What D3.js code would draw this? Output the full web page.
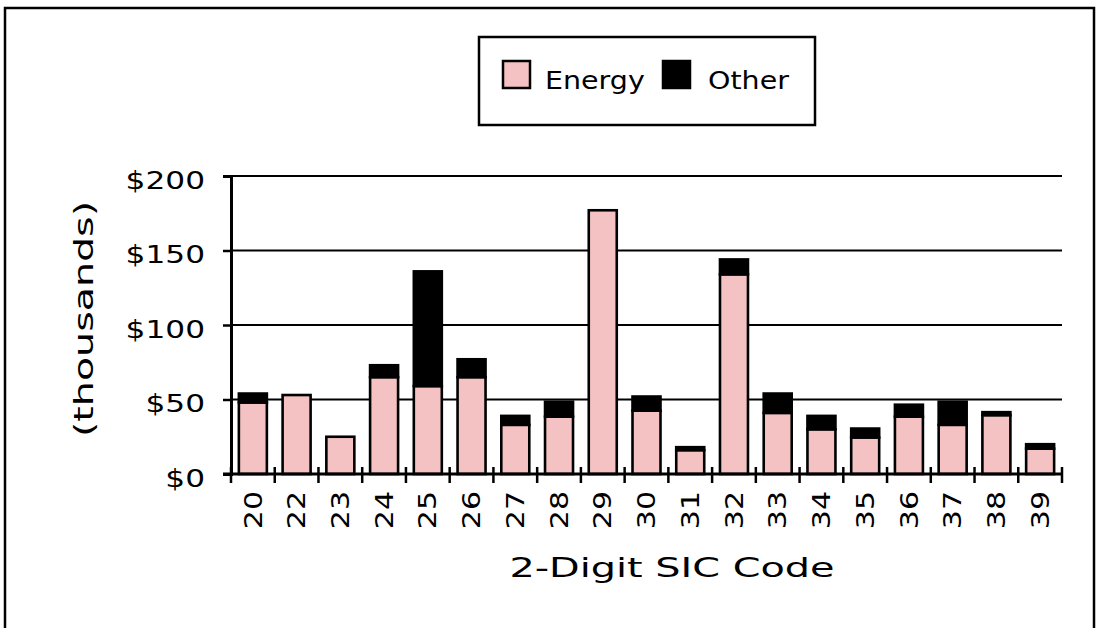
<!DOCTYPE html>
<html><head><meta charset="utf-8">
<script src="https://cdn.jsdelivr.net/npm/d3@7/dist/d3.min.js"></script>
<style>
html,body{margin:0;padding:0;background:#fff;}
svg text{font-family:"DejaVu Sans",Verdana,sans-serif;fill:#000;}
</style></head>
<body><svg id="chart" width="1099" height="628"></svg>
<script>
const categories = ["20","22","23","24","25","26","27","28","29","30","31","32","33","34","35","36","37","38","39"];
const energy = [48,53,25,65,59,65,33,38.5,177,42.5,16,134,41,30,24.5,38.5,33,39.5,17];
const other  = [6,0,0,8,77,12,6,10,0,9.5,2,10,13,9,6,8,15.5,2,3];
const yTicks = [0,50,100,150,200];
const seriesNames = ["Energy","Other"];
const colors = {"Energy":"#F4C2C2","Other":"#000000"};

const svg = d3.select("#chart");
const W = 1099, H = 628;

// widen glyphs horizontally to mimic the wide original typeface
function stretch(sel, factor){
  sel.each(function(){
    const len = this.getComputedTextLength();
    d3.select(this).attr("textLength", len*factor).attr("lengthAdjust","spacingAndGlyphs");
  });
}

// outer frame
svg.append("rect").attr("x",5).attr("y",8).attr("width",1089).attr("height",H+20)
  .attr("fill","none").attr("stroke","#000").attr("stroke-width",2.5);

const x0 = 231, x1 = 1062, yTop = 176, yBot = 474;
const x = d3.scaleBand().domain(categories).range([x0,x1]).paddingInner(0.36).paddingOuter(0.18);
const y = d3.scaleLinear().domain([0,200]).range([yBot,yTop]);

// gridlines
svg.append("g").selectAll("line").data(yTicks.filter(d=>d>0)).join("line")
  .attr("x1",x0).attr("x2",x1).attr("y1",d=>y(d)).attr("y2",d=>y(d))
  .attr("stroke","#000").attr("stroke-width",2.2);

const data = categories.map((c,i)=>({cat:c, Energy:energy[i], Other:other[i]}));
const stack = d3.stack().keys(seriesNames)(data);

const g = svg.append("g");
stack.forEach(layer=>{
  g.append("g").selectAll("rect").data(layer.filter(d=>d[1]-d[0]>0)).join("rect")
    .attr("x",d=>x(d.data.cat)).attr("width",x.bandwidth())
    .attr("y",d=>y(d[1])).attr("height",d=>y(d[0])-y(d[1]))
    .attr("fill",colors[layer.key]).attr("stroke","#000").attr("stroke-width",2.6);
});

// y axis
const yAxis = d3.axisLeft(y).tickValues(yTicks).tickSize(8).tickPadding(18).tickFormat(d=>"$"+d);
const ya = svg.append("g").attr("transform",`translate(${x0},0)`).call(yAxis);
ya.select(".domain").attr("stroke","#000").attr("stroke-width",3);
ya.selectAll(".tick line").attr("stroke","#000").attr("stroke-width",2.5);
ya.selectAll(".tick text").style("font-size","24px").attr("dy","0.5em").attr("font-family",null);
stretch(ya.selectAll(".tick text"), 1.3);

// x axis
const xa = svg.append("g").attr("transform",`translate(0,${yBot})`)
  .call(d3.axisBottom(x).tickSize(0).tickFormat(d=>d));
xa.select(".domain").remove();
svg.append("line").attr("x1",x0-8).attr("x2",x1+1).attr("y1",yBot).attr("y2",yBot)
  .attr("stroke","#000").attr("stroke-width",3);
// boundary ticks between categories
const bounds = categories.map(c=>x(c)-x.step()*x.paddingInner()/2);
bounds.push(x1);
bounds[0] = x0;
svg.append("g").selectAll("line").data(bounds).join("line")
  .attr("x1",d=>d).attr("x2",d=>d).attr("y1",yBot-7).attr("y2",yBot+9)
  .attr("stroke","#000").attr("stroke-width",2.5);
xa.selectAll(".tick text")
  .attr("transform","rotate(-90)")
  .attr("text-anchor","end").attr("x",-17).attr("y",0).attr("dy","0.36em")
  .style("font-size","24px");
stretch(xa.selectAll(".tick text"), 1.25);

// axis titles
const xt = svg.append("text").attr("x",672).attr("y",577).attr("text-anchor","middle")
  .style("font-size","26px").text("2-Digit SIC Code");
stretch(xt, 1.53);
const yt = svg.append("text").attr("transform","translate(93,319) rotate(-90)").attr("text-anchor","middle")
  .style("font-size","26px").text("(thousands)");
stretch(yt, 1.52);

// legend
const lg = svg.append("g");
lg.append("rect").attr("x",479).attr("y",37).attr("width",336).attr("height",88)
  .attr("fill","#fff").attr("stroke","#000").attr("stroke-width",2.5);
const legItems = [{k:"Energy",sx:503,tx:545},{k:"Other",sx:663,tx:708}];
legItems.forEach(it=>{
  lg.append("rect").attr("x",it.sx).attr("y",61).attr("width",27).attr("height",27)
    .attr("fill",colors[it.k]).attr("stroke","#000").attr("stroke-width",2.5);
  const t = lg.append("text").attr("x",it.tx).attr("y",89).style("font-size","25px").text(it.k);
  stretch(t, 1.14);
});
</script></body></html>
